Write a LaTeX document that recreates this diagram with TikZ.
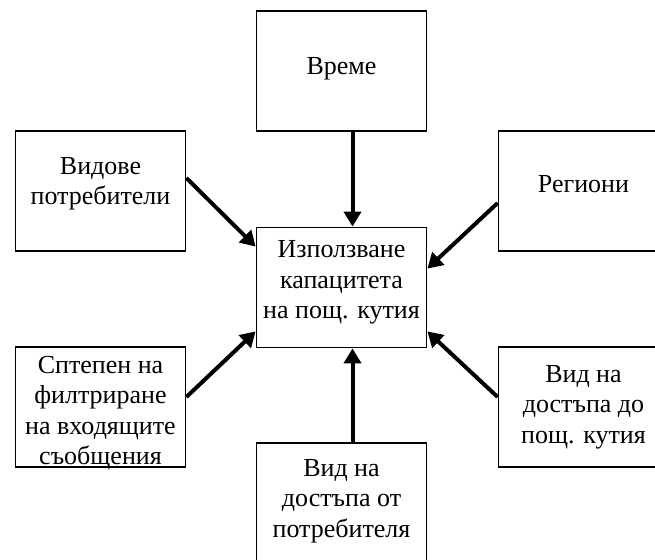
\documentclass[tikz,border=0pt]{standalone}
\usepackage{fontspec}
\setmainfont{Liberation Serif}
\usetikzlibrary{arrows.meta}

\begin{document}
\begin{tikzpicture}[x=1pt, y=-1pt, >={Triangle[length=15pt,width=17pt]},
		box/.style={draw, line width=1.8, minimum width=170, minimum height=120, inner sep=0},
		txt/.style={inner sep=0, align=center, font=\fontsize{26}{30.3}\selectfont},
		flow/.style={line width=4, ->}]
		\useasboundingbox (0,0) rectangle (655,559);
		\clip (0,0) rectangle (655,559);
		% boxes
		\node[box] (use) at (341.5,287.5) {};
		\node[box] (vreme) at (341.5,71) {};
		\node[box] (vidove) at (100.5,191) {};
		\node[box] (regioni) at (583.5,191) {};
		\node[box] (stepen) at (100.5,407) {};
		\node[box] (dostap) at (583.5,407) {};
		\node[box] (user) at (341.5,503) {};
		% texts
		\node[txt] (use-t) at ([yshift=5pt]use) {Използване\\капацитета\\на пощ. кутия};
		\node[txt] (vreme-t) at ([yshift=2pt]vreme) {Време};
		\node[txt] (vidove-t) at ([yshift=7pt]vidove) {Видове\\потребители};
		\node[txt] (regioni-t) at ([yshift=7pt]regioni) {Региони};
		\node[txt] (stepen-t) at ([yshift=-6pt]stepen) {Сптепен на\\филтриране\\на входящите\\съобщения};
		\node[txt] (dostap-t) at (dostap) {Вид на\\достъпа до\\пощ. кутия};
		\node[txt] (user-t) at ([yshift=2pt]user) {Вид на\\достъпа от\\потребителя};
		% arrows
		\draw[flow] ([xshift=11pt]vreme.south) -- ([xshift=11pt]use.north);
		\draw[flow] ([xshift=11pt]user.north) -- ([xshift=11pt]use.south);
		\draw[flow] ([yshift=13pt]vidove.east) -- ([yshift=-20pt]use.north west);
		\draw[flow] ([yshift=-12pt]regioni.west) -- ([yshift=-42pt]use.north east);
		\draw[flow] ([yshift=10pt]stepen.east) -- ([yshift=17pt]use.south west);
		\draw[flow] ([yshift=10pt]dostap.west) -- ([yshift=17pt]use.south east);
	\end{tikzpicture}
\end{document}
